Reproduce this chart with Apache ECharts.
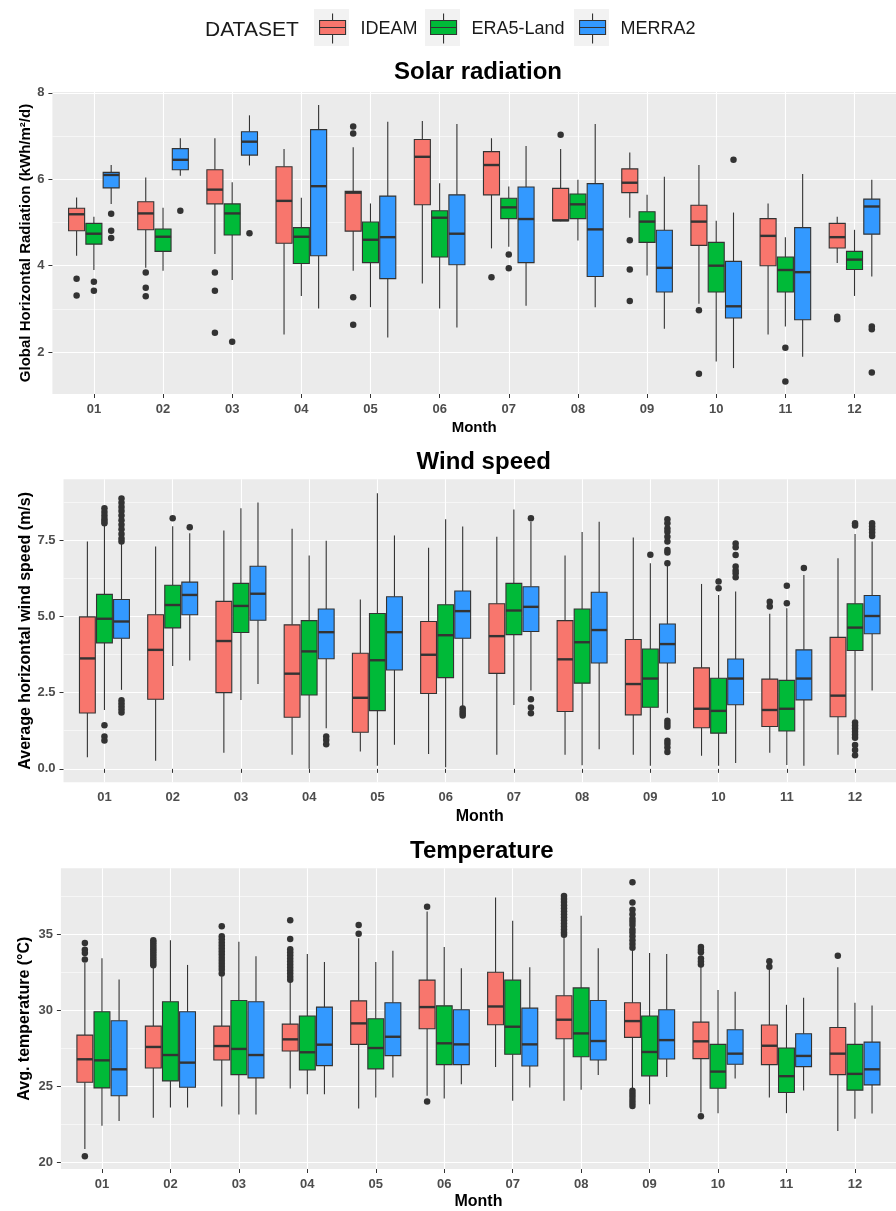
<!DOCTYPE html>
<html>
<head>
<meta charset="utf-8">
<script src="https://cdn.jsdelivr.net/npm/echarts@6/dist/echarts.min.js"></script>
<style>
  html, body { margin: 0; padding: 0; background: #fff; }
  #chart { width: 896px; height: 1211px; }
</style>
</head>
<body>
<div id="chart"></div>
<script>
// ---- data: each box is [lower whisker, Q1, median, Q3, upper whisker] ----
var months = ['01', '02', '03', '04', '05', '06', '07', '08', '09', '10', '11', '12'];
var datasets = ['IDEAM', 'ERA5-Land', 'MERRA2'];

var solarIdeam = [[4.23,4.81,5.19,5.33,5.58],[3.95,4.83,5.21,5.48,6.04],[4.27,5.43,5.76,6.22,6.95],[2.41,4.52,5.50,6.29,6.70],
  [3.88,4.80,5.69,5.72,6.74],[3.59,5.41,6.52,6.92,7.35],[4.40,5.64,6.33,6.64,6.95],[5.03,5.04,5.05,5.79,6.70],
  [5.11,5.69,5.92,6.24,6.62],[3.12,4.47,5.02,5.40,6.33],[2.41,4.00,4.69,5.09,5.44],[4.06,4.41,4.66,4.98,5.13]];
var solarEra5 = [[3.90,4.50,4.74,4.98,5.13],[3.88,4.33,4.67,4.85,5.34],[3.67,4.71,5.21,5.43,5.93],[3.30,4.05,4.67,4.88,5.57],
  [3.04,4.07,4.60,5.01,5.44],[3.01,4.20,5.11,5.27,5.91],[4.44,5.09,5.35,5.56,5.83],[4.58,5.09,5.42,5.66,5.99],
  [3.77,4.54,5.02,5.25,5.64],[1.78,3.39,4.00,4.54,5.04],[2.59,3.39,3.90,4.20,4.66],[3.30,3.91,4.14,4.33,4.83]];
var solarMerra = [[5.43,5.80,6.10,6.16,6.33],[6.08,6.22,6.45,6.71,6.95],[6.32,6.56,6.87,7.10,7.48],[3.01,4.23,5.84,7.15,7.72],
  [2.34,3.70,4.66,5.61,7.33],[2.57,4.02,4.74,5.64,7.28],[3.07,4.07,5.08,5.82,6.77],[3.04,3.75,4.84,5.90,7.28],
  [2.54,3.39,3.95,4.82,6.06],[1.63,2.79,3.06,4.10,5.23],[1.89,2.75,3.85,4.88,6.12],[3.75,4.73,5.37,5.54,5.99]];
// outliers: [month, value]
var solarIdeamOut = [[1,3.70],[1,3.31],[2,3.84],[2,3.49],[2,3.29],[3,3.84],[3,3.42],[3,2.45],[5,7.22],[5,7.06],[5,3.27],[5,2.63],
  [7,3.73],[8,7.03],[9,4.59],[9,3.91],[9,3.18],[10,2.97],[10,1.50],[12,2.82],[12,2.76]];
var solarEra5Out = [[1,3.63],[1,3.42],[3,2.24],[7,4.26],[7,3.94],[11,2.10],[11,1.32]];
var solarMerraOut = [[1,5.20],[1,4.81],[1,4.64],[2,5.27],[3,4.75],[10,6.45],[12,2.59],[12,2.53],[12,1.53]];

var windIdeam = [[0.38,1.83,3.62,4.98,7.45],[0.27,2.28,3.90,5.05,7.29],[0.53,2.50,4.19,5.49,7.81],[0.46,1.69,3.12,4.72,7.87],
  [0.57,1.20,2.33,3.79,5.55],[0.49,2.47,3.74,4.83,7.25],[0.46,3.13,4.35,5.41,7.61],[0.46,1.88,3.59,4.86,6.99],
  [0.46,1.77,2.78,4.24,7.58],[0.43,1.35,1.97,3.31,6.06],[0.53,1.39,1.93,2.94,5.08],[0.46,1.71,2.40,4.31,6.90]];
var windEra5 = [[1.93,4.13,4.92,5.72,7.99],[3.37,4.62,5.37,6.02,7.95],[2.26,4.47,5.34,6.08,8.54],[0.00,2.42,3.85,4.86,6.99],
  [0.10,1.91,3.56,5.09,9.03],[0.05,2.99,4.38,5.38,8.18],[2.09,4.40,5.19,6.08,8.50],[0.12,2.81,4.15,5.24,7.76],
  [0.10,2.02,2.96,3.93,6.74],[0.10,1.17,1.90,2.97,5.70],[0.13,1.24,1.97,2.90,5.26],[1.62,3.88,4.63,5.41,7.70]];
var windMerra = [[2.59,4.28,4.83,5.55,7.38],[3.55,5.05,5.70,6.12,7.72],[2.78,4.87,5.74,6.64,8.73],[1.33,3.61,4.48,5.24,7.48],
  [0.79,3.24,4.48,5.64,7.65],[2.02,4.28,5.17,5.83,7.94],[2.57,4.50,5.31,5.97,8.10],[0.64,3.47,4.55,5.79,8.10],
  [1.82,3.47,4.09,4.75,6.65],[0.19,2.10,2.96,3.60,5.81],[0.10,2.26,2.96,3.90,6.35],[2.57,4.43,5.01,5.68,7.45]];
var windIdeamOut = [[11,5.48],[11,5.32]];
var windEra5Out = [[1,8.54],[1,8.42],[1,8.30],[1,8.20],[1,8.12],[1,8.05],[1,1.43],[1,1.06],[1,0.93],[2,8.21],[9,7.02],
  [10,6.14],[10,5.92],[11,6.00],[11,5.43],[12,8.05],[12,7.98],[12,1.52],[12,1.42],[12,1.32],[12,1.22],[12,1.12],[12,1.02],
  [12,0.78],[12,0.62],[12,0.45]];
var windMerraOut = [[1,8.86],[1,8.72],[1,8.58],[1,8.45],[1,8.30],[1,8.15],[1,8.00],[1,7.85],[1,7.70],[1,7.55],[1,7.45],
  [1,2.25],[1,2.15],[1,2.05],[1,1.95],[1,1.85],[2,7.92],[4,1.06],[4,0.95],[4,0.81],[6,1.98],[6,1.90],[6,1.82],[6,1.75],
  [7,8.21],[7,2.28],[7,2.01],[7,1.82],[9,8.18],[9,8.05],[9,7.88],[9,7.77],[9,7.61],[9,7.45],[9,7.17],[9,7.09],[9,6.74],
  [9,1.58],[9,1.48],[9,1.38],[9,0.92],[9,0.82],[9,0.70],[9,0.55],[10,7.39],[10,7.26],[10,7.01],[10,6.63],[10,6.50],
  [10,6.41],[10,6.28],[11,6.58],[12,8.05],[12,7.95],[12,7.85],[12,7.75],[12,7.63]];

var tempIdeam = [[20.87,25.26,26.77,28.36,33.10],[22.93,26.20,27.58,28.95,32.88],[23.67,26.72,27.64,28.95,32.23],[24.85,27.31,28.08,29.08,31.90],
  [23.54,27.75,29.13,30.61,34.72],[24.37,28.78,30.20,31.97,36.48],[26.27,29.04,30.24,32.49,37.40],[24.04,28.12,29.37,30.94,34.89],
  [24.85,28.21,29.28,30.48,33.93],[23.28,26.81,27.95,29.21,32.90],[24.26,26.42,27.66,29.02,32.66],[22.05,25.76,27.14,28.86,32.82]];
var tempEra5 = [[22.40,24.89,26.70,29.89,33.41],[23.60,25.35,27.05,30.55,34.59],[23.14,25.76,27.45,30.63,34.50],[24.48,26.07,27.23,29.61,33.69],
  [24.26,26.14,27.51,29.43,33.17],[24.19,26.42,27.82,30.28,34.15],[24.04,27.10,28.91,31.97,35.87],[24.76,26.94,28.47,31.46,36.20],
  [23.82,25.68,27.25,29.61,33.76],[23.23,24.87,25.96,27.75,31.33],[23.23,24.59,25.66,27.51,30.35],[22.86,24.74,25.81,27.75,30.48]];
var tempMerra = [[22.71,24.37,26.11,29.30,32.01],[23.60,24.93,26.55,29.89,32.97],[23.14,25.55,27.05,30.55,33.54],[24.48,26.35,27.73,30.20,33.17],
  [25.57,27.01,28.25,30.48,33.91],[25.13,26.42,27.75,30.02,32.75],[24.91,26.33,27.75,30.13,32.82],[25.74,26.72,27.97,30.63,34.06],
  [25.61,26.79,28.03,30.02,33.69],[25.50,26.44,27.14,28.71,31.20],[24.72,26.29,26.99,28.45,30.81],[23.21,25.09,26.11,27.90,30.31]];
var tempIdeamOut = [[1,34.41],[1,33.97],[1,33.76],[1,33.32],[1,20.39],
  [2,34.60],[2,34.45],[2,34.30],[2,34.15],[2,34.00],[2,33.85],[2,33.70],[2,33.55],[2,33.40],[2,33.25],[2,33.10],[2,32.95],
  [3,35.52],[3,34.85],[3,34.65],[3,34.45],[3,34.25],[3,34.05],[3,33.85],[3,33.65],[3,33.45],[3,33.25],[3,33.05],[3,32.85],[3,32.65],[3,32.40],
  [4,35.90],[4,34.67],[4,34.00],[4,33.80],[4,33.60],[4,33.40],[4,33.20],[4,33.00],[4,32.80],[4,32.60],[4,32.40],[4,32.20],[4,32.00],
  [5,35.59],[5,35.02],[6,36.79],[6,24.00],
  [8,37.50],[8,37.30],[8,37.10],[8,36.90],[8,36.70],[8,36.50],[8,36.30],[8,36.10],[8,35.90],[8,35.70],[8,35.50],[8,35.30],[8,35.10],[8,34.95],
  [9,38.41],[9,37.07],[9,36.59],[9,36.30],[9,36.00],[9,35.80],[9,35.60],[9,35.30],[9,35.10],[9,34.85],[9,34.60],[9,34.35],[9,34.10],
  [9,24.70],[9,24.50],[9,24.30],[9,24.10],[9,23.90],[9,23.70],
  [10,34.15],[10,33.97],[10,33.80],[10,33.40],[10,33.20],[10,33.00],[10,23.03],[11,33.21],[11,32.85],[12,33.58]];
var tempEra5Out = [];
var tempMerraOut = [];

// axis breaks
var solarTicks = [2, 4, 6, 8], solarMinor = [3, 5, 7];
var windTicks = [0, 2.5, 5, 7.5], windMinor = [1.25, 3.75, 6.25, 8.75];
var tempTicks = [20, 25, 30, 35], tempMinor = [22.5, 27.5, 32.5, 37.5];
var monthTicks = [1, 2, 3, 4, 5, 6, 7, 8, 9, 10, 11, 12];

// ---- styling / layout ----
var colors = ['#F8766D', '#00BA38', '#3399FF'];
var FONT = '"Liberation Sans", Arial, sans-serif';
var DODGE = 0.25, BOX_W = 0.232;

var panels = [
  { title: 'Solar radiation', yName: 'Global Horizontal Radiation (kWh/m²/d)', left: 52.4, top: 92, width: 851.2, height: 302,
    min: 1.03, max: 8.02, ticks: solarTicks, minor: solarMinor, nameSize: 15, nameGap: 19, xGap: 26, titleUp: 32,
    fmt: function (v) { return String(v); },
    boxes: [solarIdeam, solarEra5, solarMerra], outs: [solarIdeamOut, solarEra5Out, solarMerraOut] },
  { title: 'Wind speed', yName: 'Average horizontal wind speed (m/s)', left: 63.5, top: 479.3, width: 840.5, height: 303,
    min: -0.44, max: 9.49, ticks: windTicks, minor: windMinor, nameSize: 16, nameGap: 30, xGap: 26, titleUp: 29,
    fmt: function (v) { return v.toFixed(1); },
    boxes: [windIdeam, windEra5, windMerra], outs: [windIdeamOut, windEra5Out, windMerraOut] },
  { title: 'Temperature', yName: 'Avg. temperature (°C)', left: 60.9, top: 868.3, width: 841.8, height: 301.7,
    min: 19.56, max: 39.32, ticks: tempTicks, minor: tempMinor, nameSize: 16, nameGap: 28, xGap: 25, titleUp: 29,
    fmt: function (v) { return String(v); },
    boxes: [tempIdeam, tempEra5, tempMerra], outs: [tempIdeamOut, tempEra5Out, tempMerraOut] }
];

function boxRenderer(offset, color) {
  return function (params, api) {
    var x = api.value(0) + offset;
    var lo = api.coord([x, api.value(1)]);
    var q1 = api.coord([x, api.value(2)]);
    var md = api.coord([x, api.value(3)]);
    var q3 = api.coord([x, api.value(4)]);
    var hi = api.coord([x, api.value(5)]);
    var hw = api.size([BOX_W, 0])[0] / 2;
    var px = md[0];
    var line = { stroke: '#333333', lineWidth: 1.1 };
    return {
      type: 'group',
      children: [
        { type: 'line', shape: { x1: px, y1: hi[1], x2: px, y2: q3[1] }, style: line },
        { type: 'line', shape: { x1: px, y1: q1[1], x2: px, y2: lo[1] }, style: line },
        { type: 'rect', shape: { x: px - hw, y: q3[1], width: hw * 2, height: q1[1] - q3[1] },
          style: { fill: color, stroke: '#333333', lineWidth: 1.1 } },
        { type: 'line', shape: { x1: px - hw, y1: md[1], x2: px + hw, y2: md[1] }, style: { stroke: '#333333', lineWidth: 2.4 } }
      ]
    };
  };
}

var grids = [], xAxes = [], yAxes = [], titles = [], series = [];

panels.forEach(function (p, pi) {
  grids.push({ left: p.left, top: p.top, width: p.width, height: p.height, show: true,
    backgroundColor: '#EBEBEB', borderWidth: 0, containLabel: false });
  titles.push({ text: p.title, left: p.left + p.width / 2, top: p.top - p.titleUp, textAlign: 'center', padding: 0,
    textStyle: { fontFamily: FONT, fontSize: 24, fontWeight: 'bold', color: '#000' } });
  xAxes.push({
    type: 'value', gridIndex: pi, min: 0.4, max: 12.6,
    name: 'Month', nameLocation: 'middle', nameGap: p.xGap, nameMoveOverlap: false,
    nameTextStyle: { fontFamily: FONT, fontSize: p.nameSize, fontWeight: 'bold', color: '#000' },
    axisLine: { show: false },
    axisTick: { show: true, length: 4, customValues: monthTicks, lineStyle: { color: '#333', width: 1 } },
    axisLabel: { customValues: monthTicks, margin: 9, fontFamily: FONT, fontSize: 13, fontWeight: 'bold', color: '#4D4D4D',
      formatter: function (v) { return months[Math.round(v) - 1]; } },
    splitLine: { show: true, lineStyle: { color: '#FFFFFF', width: 1.1 } }
  });
  yAxes.push({
    type: 'value', gridIndex: pi, min: p.min, max: p.max,
    name: p.yName, nameLocation: 'middle', nameGap: p.nameGap, nameMoveOverlap: false,
    nameTextStyle: { fontFamily: FONT, fontSize: p.nameSize, fontWeight: 'bold', color: '#000' },
    axisLine: { show: false },
    axisTick: { show: true, length: 4, customValues: p.ticks, lineStyle: { color: '#333', width: 1 } },
    axisLabel: { customValues: p.ticks, margin: 8, fontFamily: FONT, fontSize: 13, fontWeight: 'bold', color: '#4D4D4D',
      formatter: p.fmt },
    splitLine: { show: true, lineStyle: { color: '#FFFFFF', width: 1.1 } }
  });
});

// second y axis per panel, only for the thin minor grid lines
panels.forEach(function (p, pi) {
  yAxes.push({
    type: 'value', gridIndex: pi, min: p.min, max: p.max,
    axisLine: { show: false }, axisLabel: { show: false },
    axisTick: { show: false, customValues: p.minor },
    splitLine: { show: true, lineStyle: { color: '#FFFFFF', width: 0.55 } }
  });
});

panels.forEach(function (p, pi) {
  datasets.forEach(function (name, di) {
    var offset = (di - 1) * DODGE;
    series.push({
      type: 'custom', name: name, xAxisIndex: pi, yAxisIndex: pi, z: 3,
      itemStyle: { color: colors[di] },
      renderItem: boxRenderer(offset, colors[di]),
      encode: { x: 0, y: [1, 2, 3, 4, 5] },
      data: p.boxes[di].map(function (b, mi) { return [mi + 1].concat(b); })
    });
    series.push({
      type: 'scatter', name: name + ' outliers', xAxisIndex: pi, yAxisIndex: pi, z: 4,
      symbolSize: 6.5, itemStyle: { color: '#333333', opacity: 1 },
      data: p.outs[di].map(function (o) { return [o[0] + offset, o[1]]; })
    });
  });
});

// legend
var ICON = 'path://M13,0L13,7M0,7L26,7L26,21L0,21ZM0,14L26,14M13,21L13,30';
var legendLeft = [319, 430, 579];
var legends = datasets.map(function (name, di) {
  return {
    left: legendLeft[di], top: 13, padding: 0, itemWidth: 26, itemHeight: 30, selectedMode: false,
    data: [{ name: name, icon: ICON, itemStyle: { color: colors[di], borderColor: '#333333', borderWidth: 1.1 } }],
    textStyle: { fontFamily: FONT, fontSize: 18, color: '#1A1A1A', padding: [2, 0, 0, 10] }
  };
});
titles.push({ text: 'DATASET', left: 205, top: 20, padding: 0,
  textStyle: { fontFamily: FONT, fontSize: 21, fontWeight: 'normal', color: '#1A1A1A' } });

var keyBg = legendLeft.map(function (x) {
  return { type: 'rect', left: x - 5, top: 9, z: -1, shape: { width: 35, height: 37 }, style: { fill: '#F2F2F2' } };
});

var chart = echarts.init(document.getElementById('chart'), null, { renderer: 'canvas' });
chart.setOption({
  animation: false,
  backgroundColor: '#FFFFFF',
  title: titles,
  legend: legends,
  graphic: keyBg,
  grid: grids,
  xAxis: xAxes,
  yAxis: yAxes,
  series: series
});
</script>
</body>
</html>
